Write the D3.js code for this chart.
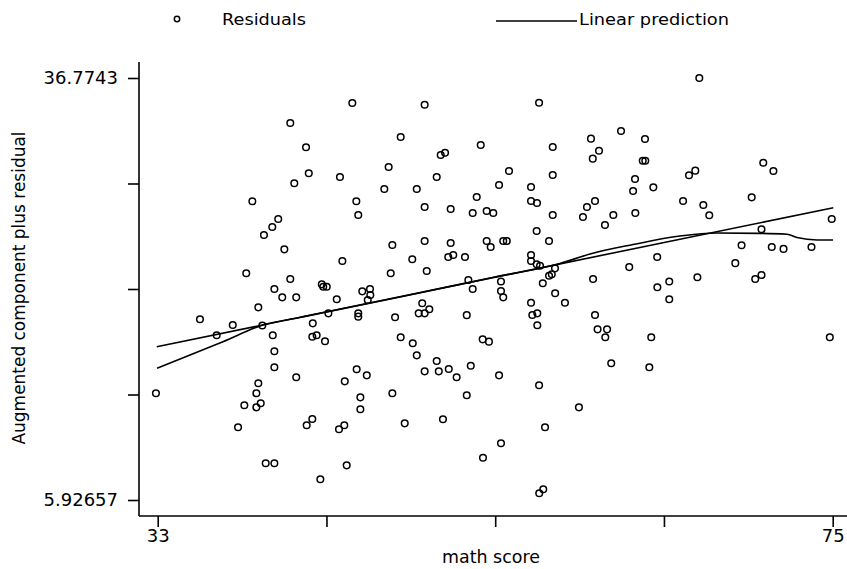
<!DOCTYPE html>
<html>
<head>
<meta charset="utf-8">
<script src="https://cdn.jsdelivr.net/npm/d3@7"></script>
<style>
body { margin: 0; background: #fff; }
svg { display: block; }
text { font-family: "DejaVu Sans", sans-serif; fill: #000; }
</style>
</head>
<body>
<svg id="chart" width="847" height="569"></svg>
<script>
// math score (x) and augmented component plus residual (y)
var mathScore = [
45.11,41.25,42.23,42.40,44.34,41.50,38.89,45.36,45.48,40.50,
40.13,39.61,40.88,44.49,38.51,41.25,49.61,56.73,48.12,50.61,
50.88,53.10,57.58,59.96,60.46,60.07,47.37,50.36,54.86,57.58,
47.10,49.12,54.24,56.23,52.85,49.61,51.23,52.60,53.47,53.88,
56.23,56.60,57.58,59.71,60.21,59.46,60.83,61.35,47.60,49.61,
51.23,53.47,53.72,54.50,54.72,56.58,57.35,48.84,51.08,51.39,
52.12,56.23,56.23,56.58,56.79,57.72,57.52,57.35,47.50,49.74,
60.09,62.58,63.84,62.72,65.69,66.95,67.32,69.96,74.94,66.70,
61.83,63.32,63.18,63.34,62.70,66.06,66.45,70.68,71.31,70.57,
69.33,71.21,71.94,73.68,64.08,62.34,68.94,66.58,70.57,70.18,
64.83,64.09,64.83,60.96,60.85,60.37,63.71,61.22,63.59,74.82,
52.33,52.60,54.36,54.36,54.50,56.96,57.73,58.34,56.23,49.46,
49.24,49.61,49.90,47.77,52.23,56.31,56.62,56.62,60.21,48.12,
48.87,49.12,53.22,53.61,50.36,49.61,50.49,51.11,51.60,52.48,
54.24,56.73,47.60,52.23,59.21,48.37,50.75,57.10,54.36,53.24,
56.74,56.99,43.21,43.30,43.52,40.26,40.75,41.62,44.14,45.73,
46.21,46.23,46.07,39.26,35.63,37.67,36.67,39.51,40.16,40.26,
40.26,42.65,42.62,42.89,43.41,43.62,45.48,45.48,32.89,39.26,
39.14,38.39,39.14,39.41,38.00,41.62,44.64,45.38,46.01,45.61,
45.61,42.62,42.27,44.61,44.28,39.72,40.26,44.76,43.12
];
var residual = [
34.95,33.49,31.71,29.81,29.54,29.08,27.76,27.76,26.76,26.47,
25.88,25.30,24.25,23.40,22.50,22.08,34.82,34.97,32.46,31.15,
31.31,31.88,31.73,32.34,31.46,30.88,30.27,29.54,29.98,29.68,
28.66,28.66,28.95,28.81,28.08,27.34,27.20,26.91,27.05,26.91,
27.78,27.64,26.76,27.34,27.78,26.61,26.03,26.76,24.57,24.86,
24.71,24.86,24.42,24.86,24.86,25.59,24.86,23.52,23.69,23.84,
23.69,23.84,23.40,23.16,23.05,22.86,22.42,22.32,22.50,22.67,
22.08,28.51,28.78,26.91,27.78,27.49,26.74,28.05,26.47,36.77,
32.90,32.32,30.73,30.73,29.39,29.66,30.00,30.58,29.98,25.72,
24.55,24.42,24.28,24.42,23.69,22.95,23.24,22.21,22.37,22.08,
21.90,21.48,20.60,18.40,17.82,18.40,17.82,15.92,15.63,17.82,
22.01,21.35,21.90,21.20,20.74,21.77,21.04,20.35,20.35,20.31,
19.57,19.57,19.87,19.28,19.44,19.45,19.57,18.70,19.45,17.82,
17.38,16.50,17.67,17.50,16.09,15.33,15.33,15.50,14.90,15.74,
15.04,14.31,13.73,13.58,12.70,11.53,11.83,11.24,10.07,9.02,
6.42,6.71,21.69,21.52,21.52,21.35,20.74,20.74,20.60,21.18,
21.35,20.91,20.55,20.01,19.14,18.72,17.97,18.68,17.97,16.80,
15.63,18.84,17.86,17.97,17.53,19.57,19.57,19.33,13.73,14.46,
13.73,12.85,12.70,13.00,11.24,14.90,14.60,15.48,15.04,13.43,
12.56,11.85,11.39,11.39,11.10,8.61,8.61,8.46,7.44
];

// linear prediction (end points)
var linX = [32.94, 75.04];
var linY = [17.13, 27.29];

// smoothed curve
var smoothX = [32.96, 35.01, 37.06, 39.55, 41.85, 48.07, 53.99, 58.03, 59.90, 62.58, 65.50, 67.80, 70.48, 72.16, 72.78, 74.03, 75.02];
var smoothY = [15.55, 16.53, 17.50, 18.72, 19.27, 20.77, 22.23, 23.21, 23.91, 24.60, 25.22, 25.44, 25.42, 25.35, 25.11, 24.93, 24.93];

var xTicks = [33, 43.5, 54, 64.5, 75];
var xTickLabels = ["33", "", "", "", "75"];
var yTicks = [5.92657, 13.6385, 21.3504, 29.0624, 36.7743];
var yTickLabels = ["5.92657", "", "", "", "36.7743"];

var svg = d3.select('#chart');

var x = d3.scaleLinear().domain([33, 75]).range([157.7, 832.7]);
var y = d3.scaleLinear().domain([5.92657, 36.7743]).range([500, 78]);

var axisX = 139, axisY = 516;

// axis lines
svg.append('line')
    .attr('x1', axisX).attr('x2', axisX)
    .attr('y1', y(36.7743) - 16).attr('y2', axisY)
    .attr('stroke', '#000').attr('stroke-width', 1.6);
svg.append('line')
    .attr('x1', axisX).attr('x2', x(75) + 18)
    .attr('y1', axisY).attr('y2', axisY)
    .attr('stroke', '#000').attr('stroke-width', 1.6);

var yAxis = d3.axisLeft(y).tickValues(yTicks).tickSize(11).tickPadding(10)
    .tickFormat(function(d, i){ return yTickLabels[i]; });
var gy = svg.append('g').attr('transform', 'translate(' + axisX + ',0)').call(yAxis);

var xAxis = d3.axisBottom(x).tickValues(xTicks).tickSize(11).tickPadding(2)
    .tickFormat(function(d, i){ return xTickLabels[i]; });
var gx = svg.append('g').attr('transform', 'translate(0,' + axisY + ')').call(xAxis);

[gx, gy].forEach(function(g){
    g.select('.domain').remove();
    g.selectAll('.tick line').attr('stroke', '#000').attr('stroke-width', 1.6);
    g.selectAll('.tick text').style('font-size', '18px').attr('fill', '#000')
        .style('font-family', '"DejaVu Sans", sans-serif');
});

// axis titles
svg.append('text')
    .attr('x', 491).attr('y', 563)
    .attr('text-anchor', 'middle')
    .style('font-size', '18px')
    .attr('textLength', 98).attr('lengthAdjust', 'spacingAndGlyphs')
    .text('math score');

svg.append('text')
    .attr('transform', 'translate(25,288) rotate(-90)')
    .attr('text-anchor', 'middle')
    .style('font-size', '18px')
    .attr('textLength', 313).attr('lengthAdjust', 'spacingAndGlyphs')
    .text('Augmented component plus residual');

// lines
var line = d3.line()
    .x(function(d){ return x(d[0]); })
    .y(function(d){ return y(d[1]); });

svg.append('path')
    .datum(linX.map(function(v, i){ return [v, linY[i]]; }))
    .attr('d', line)
    .attr('fill', 'none').attr('stroke', '#000').attr('stroke-width', 1.6);

svg.append('path')
    .datum(smoothX.map(function(v, i){ return [v, smoothY[i]]; }))
    .attr('d', line.curve(d3.curveMonotoneX))
    .attr('fill', 'none').attr('stroke', '#000').attr('stroke-width', 1.6);

// residual points
svg.append('g').selectAll('circle')
    .data(mathScore)
    .enter().append('circle')
    .attr('cx', function(d){ return x(d); })
    .attr('cy', function(d, i){ return y(residual[i]); })
    .attr('r', 3.3)
    .attr('fill', 'none')
    .attr('stroke', '#000')
    .attr('stroke-width', 1.5);

// legend
svg.append('circle')
    .attr('cx', 177).attr('cy', 19).attr('r', 2.7)
    .attr('fill', 'none').attr('stroke', '#000').attr('stroke-width', 1.5);
svg.append('text')
    .attr('x', 222).attr('y', 25)
    .style('font-size', '16px')
    .attr('textLength', 84).attr('lengthAdjust', 'spacingAndGlyphs')
    .text('Residuals');
svg.append('line')
    .attr('x1', 496).attr('x2', 577).attr('y1', 21).attr('y2', 21)
    .attr('stroke', '#000').attr('stroke-width', 1.6);
svg.append('text')
    .attr('x', 579).attr('y', 25)
    .style('font-size', '16px')
    .attr('textLength', 150).attr('lengthAdjust', 'spacingAndGlyphs')
    .text('Linear prediction');
</script>
</body>
</html>
